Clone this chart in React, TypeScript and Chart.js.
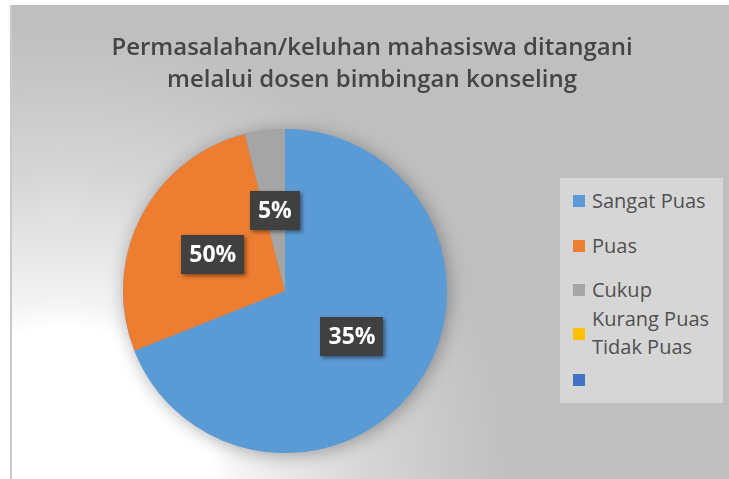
import React, { useEffect, useRef } from "react";
import { Chart, registerables } from "chart.js";

Chart.register(...registerables);

// ---- data ----
const TITLE_LINES = ["Permasalahan/keluhan mahasiswa ditangani", "melalui dosen bimbingan konseling"];
const CATEGORIES = ["Sangat Puas", "Puas", "Cukup", "Kurang Puas\nTidak Puas", ""];
const SHARES = [69, 27, 4, 0, 0];
const DATA_LABELS = ["35%", "50%", "5%", "", ""];
const COLORS = ["#5b9bd5", "#ed7d31", "#a5a5a5", "#ffc000", "#4472c4"];

// legend layout only
const LEGEND_TEXT_TOP = [187, 232, 276, 305, 366];
const LEGEND_MARK_CY = [201, 246, 290, 334, 380];

const pieShadow = {
  id: "pieShadow",
  beforeDatasetsDraw(chart: any) {
    const meta = chart.getDatasetMeta(0);
    const arc = meta.data[0];
    if (!arc) return;
    const ctx = chart.ctx;
    ctx.save();
    ctx.shadowColor = "rgba(0,0,0,0.32)";
    ctx.shadowBlur = 18;
    ctx.shadowOffsetX = 2;
    ctx.shadowOffsetY = 2;
    ctx.beginPath();
    ctx.arc(arc.x, arc.y, arc.outerRadius, 0, Math.PI * 2);
    ctx.fillStyle = COLORS[0];
    ctx.fill();
    ctx.restore();
  },
};

const boxLabels = {
  id: "boxLabels",
  afterDatasetsDraw(chart: any) {
    const meta = chart.getDatasetMeta(0);
    const ctx = chart.ctx;
    meta.data.forEach((arc: any, i: number) => {
      const txt = DATA_LABELS[i];
      if (!txt) return;
      const p = arc.getCenterPoint();
      ctx.save();
      ctx.font = "bold 23px 'Open Sans'";
      const tw = ctx.measureText(txt).width;
      const w = tw + 16;
      const h = 39;
      ctx.shadowColor = "rgba(0,0,0,0.45)";
      ctx.shadowBlur = 4;
      ctx.shadowOffsetX = 2;
      ctx.shadowOffsetY = 2;
      ctx.fillStyle = "#404040";
      ctx.fillRect(Math.round(p.x - w / 2), Math.round(p.y - h / 2), Math.round(w), h);
      ctx.shadowColor = "transparent";
      ctx.fillStyle = "#ffffff";
      ctx.textAlign = "center";
      ctx.textBaseline = "middle";
      ctx.fillText(txt, p.x, p.y + 1);
      ctx.restore();
    });
  },
};

export default function App() {
  const ref = useRef<HTMLCanvasElement | null>(null);

  useEffect(() => {
    if (!ref.current) return;
    const chart = new Chart(ref.current, {
      type: "pie",
      data: {
        labels: CATEGORIES,
        datasets: [
          {
            data: SHARES,
            backgroundColor: COLORS,
            borderWidth: 0,
          },
        ],
      },
      options: {
        responsive: false,
        animation: false,
        layout: { padding: { left: 123, top: 129, right: 282, bottom: 26 } },
        plugins: {
          legend: { display: false },
          title: { display: false },
          tooltip: { enabled: false },
        },
      },
      plugins: [pieShadow, boxLabels],
    });
    return () => chart.destroy();
  }, []);

  return (
    <div style={{ position: "fixed", left: 0, top: 0, width: 729, height: 479, background: "#ffffff", overflow: "hidden" }}>
      <div
        style={{
          position: "absolute",
          left: 10,
          top: 5,
          width: 719,
          height: 474,
          boxSizing: "border-box",
          borderLeft: "2px solid #c9c9c9",
          background:
            "radial-gradient(circle at 50px 474px, #ffffff 0px, #ffffff 150px, #f3f3f3 180px, #e5e5e5 240px, #d5d5d5 310px, #c8c8c8 390px, #bfbfbf 450px)",
        }}
      />
      <canvas ref={ref} width={729} height={479} style={{ position: "absolute", left: 0, top: 0, width: 729, height: 479 }} />
      <div
        style={{
          position: "absolute",
          left: 0,
          top: 30,
          width: 744,
          textAlign: "center",
          fontFamily: "'Open Sans', sans-serif",
          fontWeight: 600,
          fontSize: 24,
          lineHeight: "32px",
          color: "#454545",
        }}
      >
        {TITLE_LINES.map((l, i) => (
          <div key={i}>{l}</div>
        ))}
      </div>
      <div
        style={{
          position: "absolute",
          left: 560,
          top: 178,
          width: 163,
          height: 225,
          background: "#d6d6d6",
        }}
      />
      {CATEGORIES.map((c, i) => (
        <React.Fragment key={i}>
          <div
            style={{
              position: "absolute",
              left: 573,
              top: LEGEND_MARK_CY[i] - 6,
              width: 12,
              height: 12,
              background: COLORS[i],
            }}
          />
          <div
            style={{
              position: "absolute",
              left: 592,
              top: LEGEND_TEXT_TOP[i],
              fontFamily: "'Open Sans', sans-serif",
              fontSize: 20,
              lineHeight: "28px",
              color: "#505050",
              whiteSpace: "pre-line",
            }}
          >
            {c}
          </div>
        </React.Fragment>
      ))}
    </div>
  );
}
